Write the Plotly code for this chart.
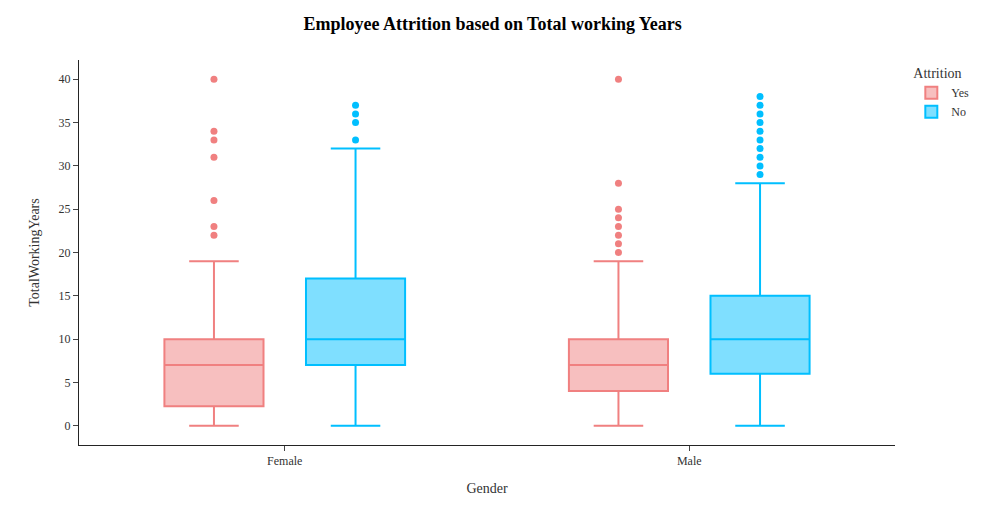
import plotly.graph_objects as go

# box statistics (TotalWorkingYears by Gender and Attrition)
genders = ['Female', 'Male']

yes_q1 = [2.25, 4]
yes_median = [7, 7]
yes_q3 = [10, 10]
yes_lower = [0, 0]
yes_upper = [19, 19]
yes_outliers = [[22, 23, 26, 31, 33, 34, 40],
                [20, 21, 22, 23, 24, 25, 28, 40]]

no_q1 = [7, 6]
no_median = [10, 10]
no_q3 = [17, 15]
no_lower = [0, 0]
no_upper = [32, 28]
no_outliers = [[33, 35, 36, 37],
               [29, 30, 31, 32, 33, 34, 35, 36, 37, 38]]

fig = go.Figure()
fig.add_trace(go.Box(name='Yes', x=genders, q1=yes_q1, median=yes_median, q3=yes_q3,
                     lowerfence=yes_lower, upperfence=yes_upper, y=yes_outliers,
                     boxpoints='outliers', marker=dict(color='lightcoral', size=7),
                     line=dict(color='lightcoral', width=2)))
fig.add_trace(go.Box(name='No', x=genders, q1=no_q1, median=no_median, q3=no_q3,
                     lowerfence=no_lower, upperfence=no_upper, y=no_outliers,
                     boxpoints='outliers', marker=dict(color='deepskyblue', size=7),
                     line=dict(color='deepskyblue', width=2)))

fig.update_layout(template='simple_white', boxmode='group', width=985, height=517,
                  title=dict(text='<b>Employee Attrition based on Total working Years</b>',
                             x=0.492, y=0.981, font=dict(size=18, color='black')),
                  font=dict(family='Liberation Serif', size=12, color='#333'),
                  legend=dict(title=dict(text='Attrition', font=dict(size=14)), font=dict(size=12),
                              x=1.02, y=1, tracegroupgap=0),
                  margin=dict(l=71, r=98, t=52, b=80))
fig.update_xaxes(title_text='Gender', title_font=dict(size=14))
fig.update_yaxes(title_text='TotalWorkingYears', title_font=dict(size=14), dtick=5)
fig.write_html("out.html")
